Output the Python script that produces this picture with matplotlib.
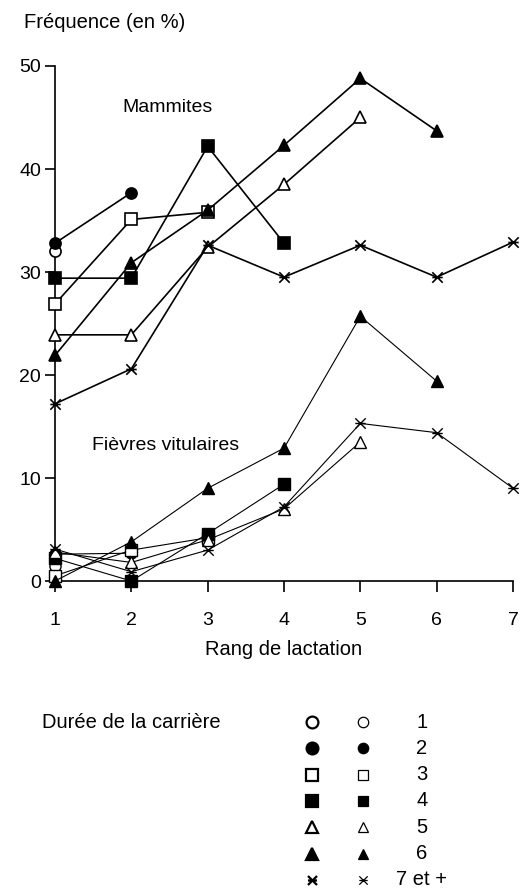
import matplotlib.pyplot as plt
from matplotlib.path import Path

plt.rcParams['font.family'] = ['Liberation Sans', 'DejaVu Sans']

# croix avec barre horizontale (7 et +)
etoile = Path([(-1, -1), (1, 1), (-1, 1), (1, -1), (-1, 0), (1, 0)],
              [Path.MOVETO, Path.LINETO, Path.MOVETO, Path.LINETO,
               Path.MOVETO, Path.LINETO])

# Durée de la carrière
carrieres = ['1', '2', '3', '4', '5', '6', '7 et +']
marqueurs = ['o', 'o', 's', 's', '^', '^', etoile]
remplissage = ['white', 'black', 'white', 'black', 'white', 'black', 'black']

rangs = [1, 2, 3, 4, 5, 6, 7]

# Mammites (%), une liste par durée de carrière
mam_1 = [32.0]
mam_2 = [32.8, 37.7]
mam_3 = [26.9, 35.1, 35.8]
mam_4 = [29.4, 29.4, 42.2, 32.8]
mam_5 = [23.9, 23.9, 32.4, 38.5, 45.0]
mam_6 = [21.9, 30.9, 36.0, 42.3, 48.8, 43.7]
mam_7 = [17.2, 20.6, 32.6, 29.5, 32.6, 29.5, 32.9]
mammites = [mam_1, mam_2, mam_3, mam_4, mam_5, mam_6, mam_7]

# Fièvres vitulaires (%)
fv_1 = [1.5]
fv_2 = [2.6, 2.7]
fv_3 = [0.5, 3.0, 4.2]
fv_4 = [2.2, 0.0, 4.6, 9.4]
fv_5 = [2.8, 1.8, 4.0, 7.0, 13.5]
fv_6 = [0.0, 3.8, 9.0, 12.9, 25.7, 19.4]
fv_7 = [3.1, 0.9, 3.0, 7.2, 15.3, 14.4, 9.0]
fievres = [fv_1, fv_2, fv_3, fv_4, fv_5, fv_6, fv_7]

fig = plt.figure(figsize=(5.26, 8.88), dpi=100)
ax = fig.add_axes([55/526, 1 - 581/888, 458/526, 515/888])

for i in range(len(carrieres)):
    m = marqueurs[i]
    fc = remplissage[i]
    ms = 9 if m == '^' else 8
    if m is etoile:
        ms = 7.5
    y = mammites[i]
    ax.plot(rangs[:len(y)], y, color='black', lw=1.2, marker=m, ms=ms,
            mfc=fc, mec='black', mew=1.2, clip_on=False, zorder=3)
    y = fievres[i]
    ax.plot(rangs[:len(y)], y, color='black', lw=0.8, marker=m, ms=ms,
            mfc=fc, mec='black', mew=1.0, clip_on=False, zorder=3)

ax.set_xlim(1, 7)
ax.set_ylim(0, 50)
ax.set_xticks(rangs)
ax.set_yticks([0, 10, 20, 30, 40, 50])
for s in ['top', 'right']:
    ax.spines[s].set_visible(False)
for s in ['left', 'bottom']:
    ax.spines[s].set_linewidth(1.2)
ax.tick_params(axis='y', direction='out', length=7, width=1.2,
               labelsize=14, pad=3)
ax.tick_params(axis='x', direction='out', length=8, width=1.2,
               labelsize=14, pad=14)
ax.set_xlabel('Rang de lactation', fontsize=14.5, labelpad=8)

ax.text(1.88, 46.0, 'Mammites', fontsize=14, va='center', ha='left')
ax.text(1.49, 13.2, 'Fièvres vitulaires', fontsize=14, va='center', ha='left')

fig.text(24/526, 1 - 22/888, 'Fréquence (en %)', fontsize=14.5,
         va='center', ha='left')

# Légende
leg = fig.add_axes([0, 0, 1, 1])
leg.set_xlim(0, 526)
leg.set_ylim(888, 0)
leg.axis('off')
leg.text(42, 722, 'Durée de la carrière', fontsize=14.5, va='center', ha='left')
for i in range(len(carrieres)):
    yy = 722 + i * 26.3
    m = marqueurs[i]
    fc = remplissage[i]
    ms1, ms2 = (6.5, 6) if m is etoile else (8.5, 7.5)
    leg.plot([312], [yy], marker=m, ms=ms1, mfc=fc, mec='black', mew=1.6,
             ls='none')
    leg.plot([363], [yy], marker=m, ms=ms2, mfc=fc, mec='black', mew=0.9,
             ls='none')
    leg.text(422, yy, carrieres[i], fontsize=14.5, va='center', ha='center')

fig.savefig('out.png', dpi=100)
